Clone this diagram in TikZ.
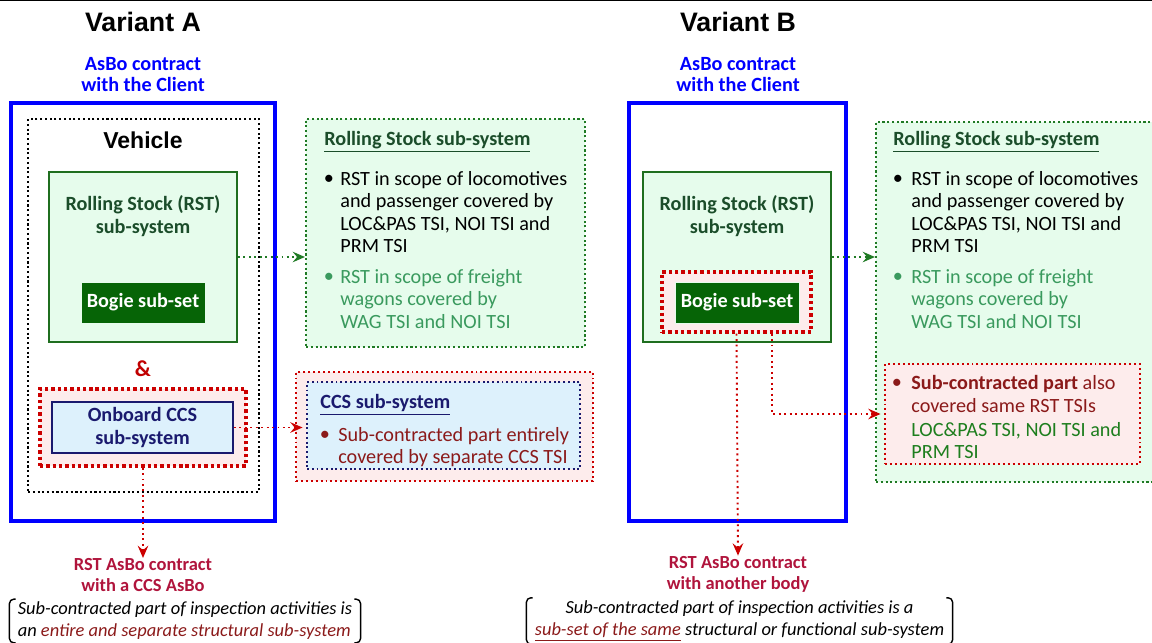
\documentclass[tikz,border=0pt]{standalone}
\usepackage{fontspec}
\setmainfont{Carlito}
\newfontfamily\headfont{Liberation Sans}
\usetikzlibrary{arrows.meta,positioning,calc}
\definecolor{FrameBlue}{HTML}{0000FF}
\definecolor{RSTDark}{HTML}{1B4D2A}
\definecolor{RSTEdge}{HTML}{1F6E1F}
\definecolor{RSTFill}{HTML}{E6FCEC}
\definecolor{BogieFill}{HTML}{066406}
\definecolor{DotRed}{HTML}{CC0000}
\definecolor{PinkFill}{HTML}{FDECEC}
\definecolor{NavyC}{HTML}{1A1A6E}
\definecolor{CCSFill}{HTML}{DDF1FC}
\definecolor{DotGreen}{HTML}{1F7A24}
\definecolor{DarkRedText}{HTML}{8B1A1A}
\definecolor{Crimson}{HTML}{B0143C}
\definecolor{FreightGreen}{HTML}{3A9A5E}
\definecolor{TSIGreen}{HTML}{1E7E1E}
\definecolor{AmpRed}{HTML}{C00000}
\newcommand{\bodyfont}{\fontsize{11.5}{12.8}\selectfont}
\tikzset{
  headline/.style={inner sep=0pt,font=\headfont\bfseries\fontsize{15.2}{17}\selectfont},
  clientlbl/.style={inner sep=0pt,align=center,text=FrameBlue,font=\bfseries\fontsize{11.5}{12}\selectfont},
  contrlbl/.style={inner sep=0pt,align=center,text=Crimson,font=\bfseries\fontsize{10.5}{12}\selectfont},
  body/.style={inner sep=0pt,align=left,anchor=north west,font=\bodyfont},
  dotlbl/.style={inner sep=0pt,font=\bodyfont},
  boxtitle/.style={inner sep=0pt,anchor=west,font=\bfseries\bodyfont},
  frameBlue/.style={draw=FrameBlue,line width=2.3pt},
  vehBox/.style={draw=black,line width=1.2pt,dash pattern=on 1.2pt off 1.5pt},
  rstBox/.style={draw=RSTEdge,fill=RSTFill,line width=1.1pt,minimum width=3.76cm,minimum height=3.4cm},
  bogieBox/.style={fill=BogieFill,draw=RSTFill,line width=0.4pt,text=white,
                   minimum width=2.48cm,minimum height=0.82cm,font=\bfseries\bodyfont},
  redThick/.style={draw=DotRed,fill=PinkFill,line width=1.9pt,dash pattern=on 1.9pt off 1.7pt},
  redThin/.style={draw=DotRed,fill=PinkFill,line width=1.1pt,dash pattern=on 1.1pt off 1.7pt},
  greenThin/.style={draw=DotGreen,fill=RSTFill,line width=1.2pt,dash pattern=on 1.2pt off 1.5pt},
  navyThin/.style={draw=NavyC,fill=CCSFill,line width=1.1pt,dash pattern=on 1.1pt off 1.6pt},
  onbBox/.style={draw=NavyC,fill=CCSFill,line width=1.1pt,text=NavyC,align=center,
                 minimum width=3.62cm,minimum height=1.02cm,font=\bfseries\bodyfont},
  garr/.style={draw=DotGreen,line width=1.1pt,dash pattern=on 1.1pt off 2pt,
               -{Stealth[length=7pt,width=6pt,inset=2.5pt]}},
  rarr/.style={draw=DotRed,line width=1.1pt,dash pattern=on 1.1pt off 2pt,
               -{Stealth[length=7pt,width=6pt,inset=2.5pt]}},
  note/.style={inner xsep=4.6pt,inner ysep=1.5pt,font=\itshape\fontsize{10.5}{12.5}\selectfont},
  brk/.style={line width=0.8pt,rounded corners=2.5pt}
}
\begin{document}
\begin{tikzpicture}[x=0.02cm,y=-0.02cm]
  \useasboundingbox (0,0) rectangle (1152,642);
  \draw[line width=1pt] (0,0) -- (1152,0);

  % Variant A
  \node[headline] (titleA) at (143,22) {Variant A};
  \node[clientlbl] (clientA) at (143,74.5) {AsBo contract\\with the Client};
  \node[frameBlue,minimum width=5.28cm,minimum height=8.36cm] (boxA) at (143,312) {};
  \node[vehBox,minimum width=4.62cm,minimum height=7.46cm] (vehA) at (143.5,305.5) {};
  \node[inner sep=0pt,font=\headfont\bfseries\fontsize{13.1}{15}\selectfont] (vehlblA) at (143,140) {Vehicle};
  \node[rstBox] (rstA) at (143,257) {};
  \node[inner sep=0pt,align=center,text=RSTDark,font=\bfseries\bodyfont] (rstlblA) at (143,216) {Rolling Stock (RST)\\sub-system};
  \node[bogieBox] (bogieA) at (143,302.5) {\raisebox{-0.1em}{Bogie sub-set}};
  \node[inner sep=0pt,text=AmpRed,font=\bfseries\fontsize{13}{14}\selectfont] (amp) at (143,369) {\&};
  \node[redThick,minimum width=4.12cm,minimum height=1.54cm] (ccsA) at (143,427.5) {};
  \node[onbBox] (onbA) at (142.5,427.5) {Onboard CCS\\sub-system};

  \node[greenThin,minimum width=5.58cm,minimum height=4.56cm] (rssA) at (445.5,233) {};
  \node[boxtitle,text=RSTDark] (rssttlA) at (324,142) {\underline{Rolling Stock sub-system}};
  \node[dotlbl] (dotA1) at (329,180) {\textbullet};
  \node[body] (itemA1) at (340,171) {RST in scope of locomotives\\and passenger covered by\\LOC\&PAS TSI, NOI TSI and\\PRM TSI};
  \node[dotlbl,text=FreightGreen] (dotA2) at (329,278) {\textbullet};
  \node[body,text=FreightGreen] (itemA2) at (340,269) {RST in scope of freight\\wagons covered by\\WAG TSI and NOI TSI};

  \node[redThin,minimum width=5.94cm,minimum height=2.18cm] (ccsOut) at (444.5,426.5) {};
  \node[navyThin,minimum width=5.46cm,minimum height=1.74cm] (ccsIn) at (443.5,425.5) {};
  \node[boxtitle,text=NavyC] (ccsttl) at (320,405) {\underline{CCS sub-system}};
  \node[dotlbl,text=DarkRedText] (dotC) at (325,436) {\textbullet};
  \node[body,text=DarkRedText] (itemC) at (338,427) {Sub-contracted part entirely\\covered by separate CCS TSI};

  \node[contrlbl] (contrA) at (143,575) {RST AsBo contract\\with a CCS AsBo};
  \node[note,align=left] (noteA) at (185,621) {Sub-contracted part of inspection activities is\\an \textcolor{DarkRedText}{entire and separate structural sub-system}};
  \draw[brk] ([xshift=3.5pt]noteA.north west) -- (noteA.north west) -- (noteA.south west) -- ([xshift=3.5pt]noteA.south west);
  \draw[brk] ([xshift=-3.5pt]noteA.north east) -- (noteA.north east) -- (noteA.south east) -- ([xshift=-3.5pt]noteA.south east);

  \draw[garr] (rstA.east) -- (rstA.east -| rssA.west);
  \draw[rarr,shorten >=2pt] (onbA.east) -- (onbA.east -| ccsIn.west);
  \draw[rarr] (ccsA.south) -- (contrA.north);

  % Variant B
  \node[headline] (titleB) at (738,22) {Variant B};
  \node[clientlbl] (clientB) at (738,74.5) {AsBo contract\\with the Client};
  \node[frameBlue,minimum width=4.34cm,minimum height=8.36cm] (boxB) at (737.5,312) {};
  \node[rstBox] (rstB) at (737,257) {};
  \node[inner sep=0pt,align=center,text=RSTDark,font=\bfseries\bodyfont] (rstlblB) at (737,216) {Rolling Stock (RST)\\sub-system};
  \node[redThick,minimum width=2.98cm,minimum height=1.2cm] (bogieRedB) at (736.5,302) {};
  \node[bogieBox] (bogieB) at (737,302.5) {\raisebox{-0.1em}{Bogie sub-set}};

  \node[greenThin,minimum width=5.88cm,minimum height=7.2cm] (rssB) at (1023,302) {};
  \node[boxtitle,text=RSTDark] (rssttlB) at (893,142) {\underline{Rolling Stock sub-system}};
  \node[dotlbl] (dotB1) at (898,180) {\textbullet};
  \node[body] (itemB1) at (911,171) {RST in scope of locomotives\\and passenger covered by\\LOC\&PAS TSI, NOI TSI and\\PRM TSI};
  \node[dotlbl,text=FreightGreen] (dotB2) at (898,278) {\textbullet};
  \node[body,text=FreightGreen] (itemB2) at (911,269) {RST in scope of freight\\wagons covered by\\WAG TSI and NOI TSI};

  \node[redThin,minimum width=5.1cm,minimum height=2cm] (subB) at (1012.5,414) {};
  \node[dotlbl,text=DarkRedText] (dotS) at (897,384) {\textbullet};
  \node[body,text=DarkRedText] (itemS) at (911,375) {\textbf{Sub-contracted part} also\\covered same RST TSIs};
  \node[body,text=TSIGreen] (itemT) at (911,422) {LOC\&PAS TSI, NOI TSI and\\PRM TSI};

  \node[contrlbl] (contrB) at (738,574) {RST AsBo contract\\with another body};
  \node[note,align=center] (noteB) at (739.5,621) {Sub-contracted part of inspection activities is a\\\textcolor{DarkRedText}{\underline{sub-set of the same}} structural or functional sub-system};
  \draw[brk] ([xshift=3.5pt]noteB.north west) -- (noteB.north west) -- (noteB.south west) -- ([xshift=3.5pt]noteB.south west);
  \draw[brk] ([xshift=-3.5pt]noteB.north east) -- (noteB.north east) -- (noteB.south east) -- ([xshift=-3.5pt]noteB.south east);

  \draw[garr] (rstB.east) -- (rstB.east -| rssB.west);
  \draw[rarr] (bogieRedB.south) -- (contrB.north);
  \draw[rarr,shorten >=2pt] ([xshift=0.71cm]bogieRedB.south) |- (subB.west);
\end{tikzpicture}
\end{document}
